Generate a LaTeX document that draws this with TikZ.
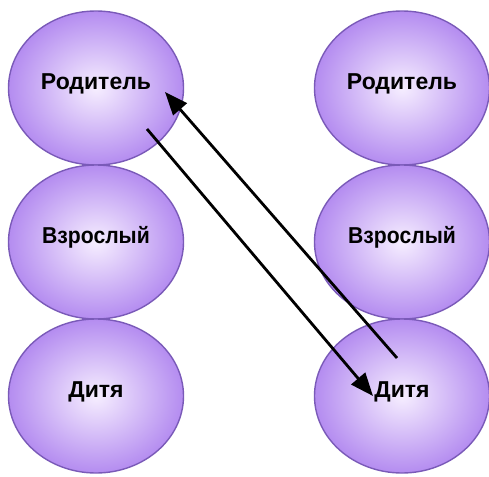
\documentclass[tikz,border=0pt]{standalone}
\usepackage{fontspec}
\setmainfont{Liberation Sans}
\usepackage{tikz}
\usetikzlibrary{
    positioning,
    arrows.meta,
    shapes.geometric
}
\definecolor{egoEdge}{HTML}{7A5AB8}
\definecolor{egoInner}{HTML}{F6EEFF}
\definecolor{egoOuter}{HTML}{B48CF0}

\begin{document}
\begin{tikzpicture}[
  x=1pt, y=-1pt,
  font=\bfseries\fontsize{23}{26}\selectfont,
  >=Triangle,
  state/.style={ellipse, draw=egoEdge, line width=1.4pt, shading=radial,
                inner color=egoInner, outer color=egoOuter,
                minimum width=175pt, minimum height=154pt, inner sep=0pt,
                text height=17pt, text depth=15pt},
  arrow/.style={-{Triangle[length=23pt,width=18pt]}, line width=2.8pt, draw=black}
]
\useasboundingbox (0,0) rectangle (489,476);

% Left column
\node[state] (parA) at (96, 88) {Родитель};
\node[state] (adA) at (96, 242) {\scalebox{0.92}[1]{Взрослый}};
\node[state] (chA) at (96, 396) {Дитя};

% Right column
\node[state] (parB) at (402, 88) {Родитель};
\node[state] (adB) at (402, 242) {\scalebox{0.92}[1]{Взрослый}};
\node[state] (chB) at (402, 396) {Дитя};

% Transaction ends
\coordinate (sendA) at (147, 129);
\coordinate (recvB) at (373, 396);
\coordinate (sendB) at (397, 358);
\coordinate (recvA) at (165, 92);

% Crossed transaction
\draw[arrow] (sendA) -- (recvB);
\draw[arrow] (sendB) -- (recvA);

\end{tikzpicture}
\end{document}
